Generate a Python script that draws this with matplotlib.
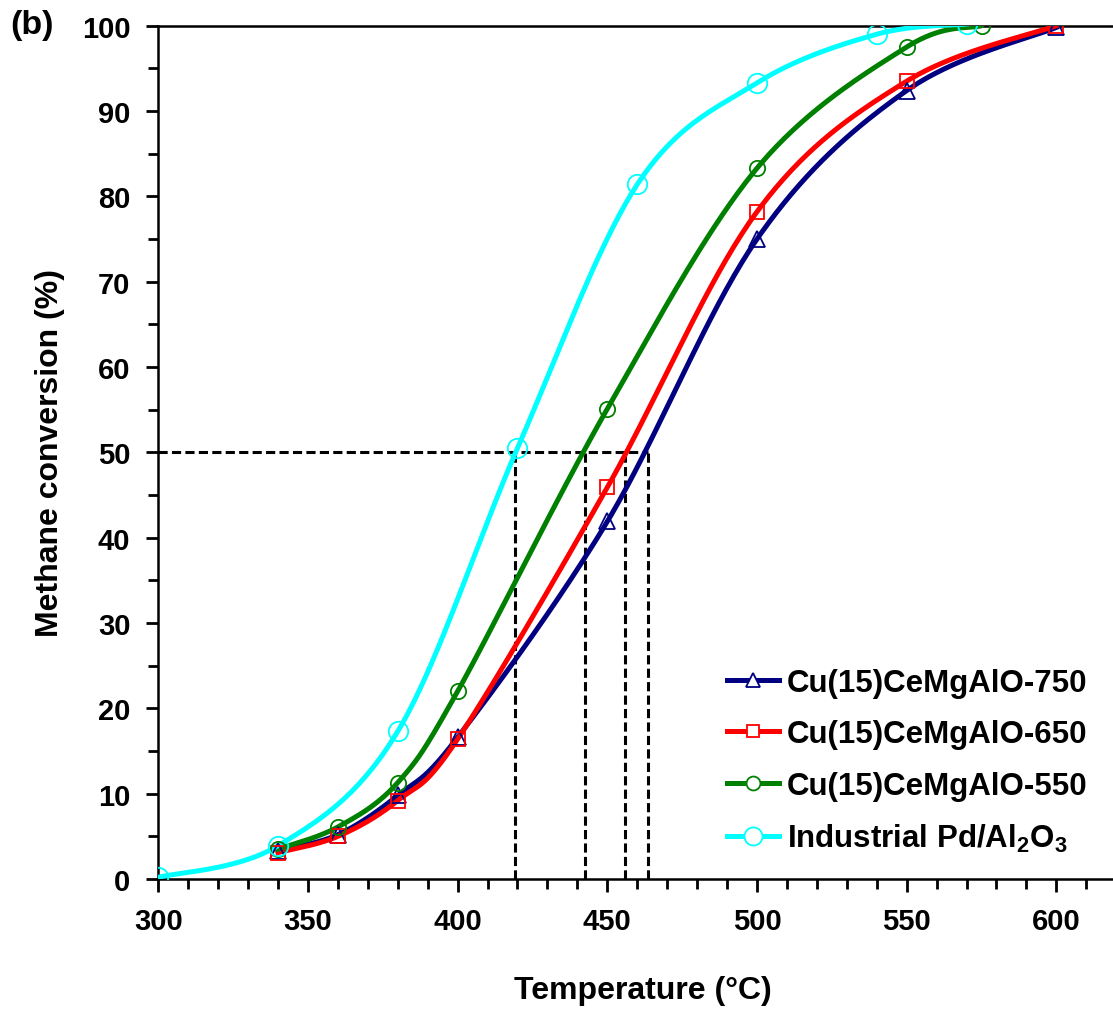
import numpy as np
import matplotlib.pyplot as plt
from matplotlib.ticker import MultipleLocator

plt.rcParams['font.family'] = ['Liberation Sans', 'DejaVu Sans']
plt.rcParams['font.weight'] = 'bold'

# data
t_cu = [340, 360, 380, 400, 450, 500, 550, 600]
conv_750 = [3.3, 5.2, 9.8, 16.6, 41.9, 75.0, 92.4, 99.8]
conv_650 = [3.1, 5.0, 9.2, 16.4, 45.9, 78.2, 93.5, 100.0]
t_550 = [340, 360, 380, 400, 450, 500, 550, 575]
conv_550 = [3.5, 6.1, 11.3, 22.0, 55.1, 83.3, 97.5, 100.0]
t_pd = [300, 340, 380, 420, 460, 500, 540, 570]
conv_pd = [0.2, 3.9, 17.3, 50.5, 81.4, 93.3, 99.0, 100.2]

# T50 guide lines
t50 = [419, 442.5, 456, 463.5]

labels = ['Cu(15)CeMgAlO-750', 'Cu(15)CeMgAlO-650', 'Cu(15)CeMgAlO-550',
          'Industrial Pd/Al$_\\mathregular{2}$O$_\\mathregular{3}$']


def smooth(x, y, n=40):
    """Excel-like smoothed line (Catmull-Rom as cubic Bezier)."""
    p = np.column_stack([x, y]).astype(float)
    pts = np.vstack([p[0], p, p[-1]])
    out = []
    t = np.linspace(0, 1, n)[:, None]
    for i in range(1, len(pts) - 2):
        p0, p1, p2, p3 = pts[i - 1], pts[i], pts[i + 1], pts[i + 2]
        c1 = p1 + (p2 - p0) / 6
        c2 = p2 - (p3 - p1) / 6
        seg = ((1 - t) ** 3) * p1 + 3 * ((1 - t) ** 2) * t * c1 \
            + 3 * (1 - t) * t ** 2 * c2 + t ** 3 * p2
        out.append(seg)
    out = np.vstack(out)
    return out[:, 0], out[:, 1]


fig = plt.figure(figsize=(11.13, 10.12), dpi=100)
ax = fig.add_axes([0.1422, 0.1304, 0.858, 0.8432])

# dashed guides
ax.plot([300, max(t50)], [50, 50], color='black', lw=2.2, dashes=(3, 1.4))
for tx in t50:
    ax.plot([tx, tx], [0, 50], color='black', lw=2.2, dashes=(3, 1.4))

series = [
    (t_cu, conv_750, '#000080', '^', labels[0]),
    (t_cu, conv_650, '#ff0000', 's', labels[1]),
    (t_550, conv_550, '#008000', 'o', labels[2]),
    (t_pd, conv_pd, '#00ffff', 'o', labels[3]),
]
msizes = {'^': 11, 's': 10, 'o': 11}
msizes_pd = 14
for xs, ys, c, m, lab in series:
    sx, sy = smooth(xs, ys)
    ax.plot(sx, sy, color=c, lw=3.6, zorder=3)
    ms = msizes_pd if c == '#00ffff' else msizes[m]
    ax.plot(xs, ys, ls='none', marker=m, ms=ms, mfc='none', mec=c, mew=1.3, zorder=4)
    ax.plot([], [], color=c, lw=3.6, marker=m, ms=ms - 1, mfc='white', mec=c,
            mew=1.3, label=lab)

ax.set_xlim(300, 619)
ax.set_ylim(0, 100)
ax.xaxis.set_major_locator(MultipleLocator(50))
ax.xaxis.set_minor_locator(MultipleLocator(10))
ax.yaxis.set_major_locator(MultipleLocator(10))
ax.yaxis.set_minor_locator(MultipleLocator(5))
ax.tick_params(which='major', direction='out', length=9, width=2, labelsize=21, pad=11)
ax.tick_params(which='minor', direction='out', length=7, width=2)
for s in ['left', 'bottom', 'top']:
    ax.spines[s].set_linewidth(1.8)
ax.spines['right'].set_visible(False)
for lbl in ax.get_xticklabels() + ax.get_yticklabels():
    lbl.set_fontweight('bold')

ax.set_xlabel('Temperature (°C)', fontsize=23, fontweight='bold')
ax.set_ylabel('Methane conversion (%)', fontsize=23, fontweight='bold')
ax.xaxis.set_label_coords(0.507, -0.13)
ax.yaxis.set_label_coords(-0.113, 0.5)
ax.xaxis.label.set_va('center')
ax.yaxis.label.set_va('center')

ax.legend(loc='lower right', bbox_to_anchor=(0.999, 0.0), frameon=False, fontsize=22.5,
          handlelength=1.65, handletextpad=0.25, labelspacing=0.68, borderaxespad=0.4)

fig.text(0.009, 0.975, '(b)', fontsize=24.5, fontweight='bold', va='center')

fig.savefig('out.png', dpi=100)
